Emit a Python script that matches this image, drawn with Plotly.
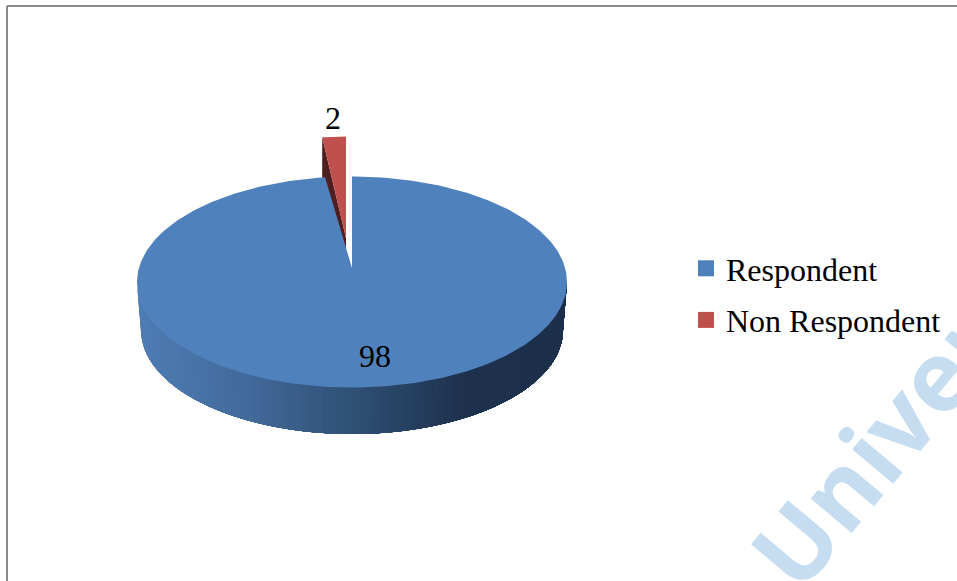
import math
import plotly.graph_objects as go

# Data
categories = ["Respondent", "Non Respondent"]
values = [98, 2]
colors = ["#4F81BD", "#C0504D"]
dark_side = "#4e1f1e"
frame_color = "#8a8a8a"
watermark = "University"
watermark_color = "#c6ddf1"
FONT = "Liberation Serif"

# Geometry of the drawn 3D pie, in page pixels
W, H = 957, 581
CX, CY, RX, RY = 352, 282, 215, 105.5
APEX_Y = 268
DEPTH = 48
BOTTOM_RX, BOTTOM_RY = 211, 104
EXPL_X, EXPL_ARC_Y, EXPL_APEX_Y = -6, -40, -30
RED_RX = 190

share = values[1] / sum(values) * 360  # degrees used by the red slice


def rim(theta_deg, cx=CX, cy=CY, rx=RX, ry=RY):
    t = math.radians(theta_deg)
    return cx + rx * math.sin(t), cy - ry * math.cos(t)


def steps(a, b, n):
    return [a + (b - a) * i / n for i in range(n + 1)]


def mix(c1, c2, f):
    return tuple(c1[i] + (c2[i] - c1[i]) * f for i in range(3))


fig = go.Figure()


def poly(pts, color):
    fig.add_trace(go.Scatter(
        x=[p[0] for p in pts], y=[p[1] for p in pts], mode="lines", fill="toself",
        fillcolor=color, line=dict(color=color, width=0), hoverinfo="skip", showlegend=False))


# Exploded red slice: dark cut wall, then top face
left_pt = rim(360 - share, CX + EXPL_X, CY + EXPL_ARC_Y, RED_RX)
apex_pt = (CX + EXPL_X, APEX_Y + EXPL_APEX_Y)
poly([left_pt, apex_pt, (apex_pt[0], apex_pt[1] + DEPTH), (left_pt[0], left_pt[1] + DEPTH)], dark_side)
poly([apex_pt] + [rim(a, CX + EXPL_X, CY + EXPL_ARC_Y, RED_RX) for a in steps(360 - share, 360, 8)] + [apex_pt], colors[1])

# Blue wall: front half of the rim, shaded left to right; each band runs on to the
# right end and the next one paints over it, so no seams show between bands
stops = [(0.0, (78, 125, 180)), (0.25, (66, 106, 155)), (0.55, (44, 74, 108)),
         (0.75, (30, 50, 78)), (1.0, (28, 48, 76))]


def shade(f):
    for (f0, c0), (f1, c1) in zip(stops, stops[1:]):
        if f <= f1:
            c = mix(c0, c1, (f - f0) / (f1 - f0))
            return "rgb(%d,%d,%d)" % c
    return "rgb(%d,%d,%d)" % stops[-1][1]


N = 90
for i in range(N):
    a0 = 270 - 180 * i / N
    top = [rim(a) for a in steps(a0, 90, 40)]
    bot = [rim(a, CX, CY + DEPTH, BOTTOM_RX, BOTTOM_RY) for a in steps(a0, 90, 40)]
    poly(top + bot[::-1], shade((top[0][0] - (CX - RX)) / (2 * RX)))

# Blue top face
blue = [(CX, APEX_Y)] + [rim(a) for a in steps(0, 360 - share, 360)] + [(CX, APEX_Y)]
poly(blue, colors[0])

# Data labels
fig.add_trace(go.Scatter(
    x=[375, 333], y=[359, 121], mode="text", text=[str(values[0]), str(values[1])],
    textposition="middle center", textfont=dict(family=FONT, size=32, color="black"),
    hoverinfo="skip", showlegend=False))

# Legend entries
for name, col in zip(categories, colors):
    fig.add_trace(go.Scatter(
        x=[None], y=[None], mode="markers", name=name, legendgroup=name,
        marker=dict(symbol="square", size=16, color=col)))

fig.update_layout(
    width=W, height=H, margin=dict(l=0, r=0, t=0, b=0),
    paper_bgcolor="white", plot_bgcolor="white",
    xaxis=dict(range=[0, W], visible=False, fixedrange=True),
    yaxis=dict(range=[H, 0], visible=False, fixedrange=True),
    legend=dict(x=686 / W, y=1 - 241 / H, xanchor="left", yanchor="top",
                bgcolor="rgba(0,0,0,0)", tracegroupgap=7,
                font=dict(family=FONT, size=32, color="black")),
    shapes=[
        dict(type="line", xref="paper", yref="paper", x0=7 / W, x1=1, y0=1 - 6 / H, y1=1 - 6 / H,
             line=dict(color=frame_color, width=2)),
        dict(type="line", xref="paper", yref="paper", x0=7 / W, x1=7 / W, y0=0, y1=1 - 6 / H,
             line=dict(color=frame_color, width=2)),
    ],
    annotations=[dict(
        x=932 / W, y=1 - 378 / H, xref="paper", yref="paper", xanchor="center", yanchor="middle",
        text=watermark, showarrow=False, textangle=-50,
        font=dict(family="Open Sans", size=98, color=watermark_color, weight=700))],
)

fig.write_html("out.html", config={"displayModeBar": False},
               post_script="document.body.style.margin='0';document.body.style.overflow='hidden';")
